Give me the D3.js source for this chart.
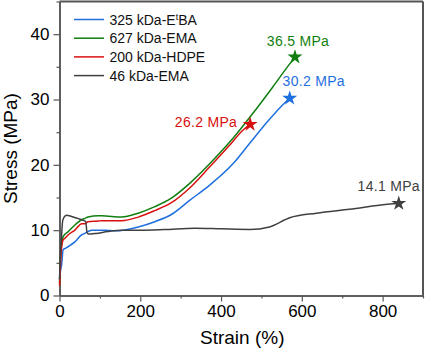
<!DOCTYPE html>
<html><head><meta charset="utf-8">
<script src="https://cdn.jsdelivr.net/npm/d3@7"></script>
<style>body{margin:0;background:#fff}svg{display:block}text{font-family:"Liberation Sans",Arial,sans-serif}</style>
</head><body>
<svg id="c" width="426" height="352"></svg>
<script>
// ---- data ----
const seriesNames = ["325 kDa-E\u1d57BA", "627 kDa-EMA", "200 kDa-HDPE", "46 kDa-EMA"];
const seriesColors = ["#1f6fdf", "#107f10", "#d81010", "#404040"];

const strainBlue = [0,3,5,9,14,22,38,55,63,71,80,112,137,195,236,277,323,372,430,471,512,553,570];
const stressBlue = [2.5,4.0,4.6,7.0,7.2,7.5,8.2,9.3,9.5,9.8,10.0,10.0,9.9,10.5,11.3,12.4,14.6,16.9,20.2,23.3,26.4,29.2,30.2];

const strainGreen = [0,2,4,9,22,38,55,63,71,96,104,154,195,236,277,323,380,430,479,529,562,583];
const stressGreen = [1.9,5.0,7.0,9.0,9.8,10.8,11.6,11.8,12.0,12.2,12.2,12.0,12.6,13.6,14.9,17.2,20.7,24.1,27.9,32.0,34.8,36.5];

const strainRed = [0,2,4,9,14,22,38,55,63,71,96,104,154,195,236,277,323,372,421,454,472];
const stressRed = [1.5,4.0,6.5,8.5,8.8,9.3,10.0,11.0,11.0,11.3,11.4,11.45,11.45,12.0,13.0,14.2,16.5,19.7,23.0,25.3,26.2];

const strainGray = [0,2,5,8,14,18,30,45,59,65,68,71,90,120,154,200,260,335,400,471,520,570,636,718,818,840];
const stressGray = [2.5,6.0,9.0,11.5,12.2,12.3,12.1,11.8,11.5,11.3,9.7,9.4,9.5,9.8,10.0,10.0,10.1,10.3,10.2,10.1,10.5,11.9,12.6,13.2,14.0,14.1];

const breakLabels = ["30.2 MPa", "36.5 MPa", "26.2 MPa", "14.1 MPa"];
const xTicks = [0,200,400,600,800];
const yTicks = [0,10,20,30,40];

// ---- layout ----
const L = 59.5, R = 423, T = 1.5, B = 295.5;
const x = d3.scaleLinear().domain([0,900]).range([L,R]);
const y = d3.scaleLinear().domain([0,45]).range([B,T]);
const svg = d3.select("#c");

const series = [
  {s: strainBlue, v: stressBlue},
  {s: strainGreen, v: stressGreen},
  {s: strainRed, v: stressRed},
  {s: strainGray, v: stressGray}
];

// frame top/right
svg.append("line").attr("x1",L).attr("x2",R).attr("y1",T).attr("y2",T).attr("stroke","#555").attr("stroke-width",2);
svg.append("line").attr("x1",R).attr("x2",R).attr("y1",T).attr("y2",B).attr("stroke","#555").attr("stroke-width",2);

// axes
const xAx = svg.append("g").attr("transform",`translate(0,${B})`)
  .call(d3.axisBottom(x).tickValues(xTicks).tickSize(6).tickPadding(3).tickSizeOuter(0));
const xMin = svg.append("g").attr("transform",`translate(0,${B})`)
  .call(d3.axisBottom(x).tickValues([100,300,500,700,900]).tickSize(3).tickFormat("").tickSizeOuter(0));
const yAx = svg.append("g").attr("transform",`translate(${L},0)`)
  .call(d3.axisLeft(y).tickValues(yTicks).tickSize(6).tickPadding(4).tickSizeOuter(0));
const yMin = svg.append("g").attr("transform",`translate(${L},0)`)
  .call(d3.axisLeft(y).tickValues([5,15,25,35,45]).tickSize(3).tickFormat("").tickSizeOuter(0));
[xAx,xMin,yAx,yMin].forEach(g=>{
  g.select(".domain").attr("stroke","#555").attr("stroke-width",1.5);
  g.selectAll(".tick line").attr("stroke","#555").attr("stroke-width",1.2);
  g.selectAll(".tick text").attr("fill","#000").style("font-size","17px").style("font-family","Liberation Sans, Arial, sans-serif");
});

// axis titles
svg.append("text").attr("x",(L+R)/2+1).attr("y",344).attr("text-anchor","middle")
  .style("font-size","19px").text("Strain (%)");
svg.append("text").attr("transform",`translate(17,${(T+B)/2}) rotate(-90)`).attr("text-anchor","middle")
  .style("font-size","19px").text("Stress (MPa)");

// lines
const line = d3.line().x(d=>x(d[0])).y(d=>y(d[1])).curve(d3.curveMonotoneX);
series.forEach((sr,i)=>{
  const pts = sr.s.map((s,j)=>[s,sr.v[j]]);
  svg.append("path").datum(pts).attr("d",line).attr("fill","none")
    .attr("stroke",seriesColors[i]).attr("stroke-width",1.5).attr("stroke-linejoin","round");
});

// stars + labels
const labelOff = [[24,-12,"middle"],[3,-11,"middle"],[-13,3,"end"],[-10,-12,"middle"]];
series.forEach((sr,i)=>{
  const n = sr.s.length-1;
  const cx = x(sr.s[n]), cy = y(sr.v[n]);
  svg.append("path").attr("d",d3.symbol().type(d3.symbolStar).size(70)())
    .attr("transform",`translate(${cx},${cy})`).attr("fill",seriesColors[i]);
  svg.append("text").attr("x",cx+labelOff[i][0]).attr("y",cy+labelOff[i][1])
    .attr("text-anchor",labelOff[i][2]).attr("fill",seriesColors[i])
    .style("font-size","14px").style("letter-spacing","0.3px").text(breakLabels[i]);
});

// legend
const lg = svg.append("g");
seriesNames.forEach((nm,i)=>{
  const yy = 19.5 + i*18.7;
  lg.append("line").attr("x1",74).attr("x2",104).attr("y1",yy).attr("y2",yy)
    .attr("stroke",seriesColors[i]).attr("stroke-width",1.5);
  const t = lg.append("text").attr("x",109.5).attr("y",yy+5).attr("fill","#111").style("font-size","14px");
  if (i===0) {
    t.append("tspan").text("325 kDa-E");
    t.append("tspan").attr("dy",-5).style("font-size","9px").text("t");
    t.append("tspan").attr("dy",5).text("BA");
  } else t.text(nm);
});
</script>
</body></html>
